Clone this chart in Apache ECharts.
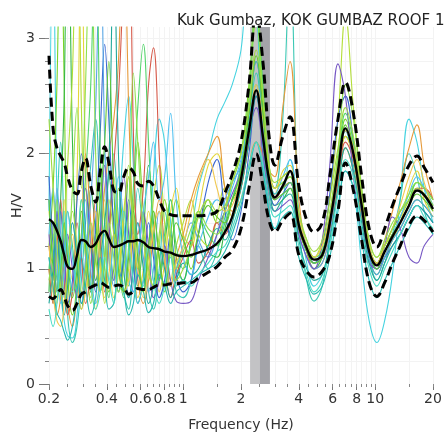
<!DOCTYPE html>
<html>
<head>
<meta charset="utf-8">
<script src="https://cdn.jsdelivr.net/npm/echarts@6/dist/echarts.min.js"></script>
<style>
  html, body { margin: 0; padding: 0; background: #ffffff; }
  #chart { width: 445px; height: 438px; }
</style>
</head>
<body>
<div id="chart"></div>
<script>
// Frequency samples (Hz) shared by every H/V curve
const freqHz = [
  0.2, 0.21, 0.22, 0.23, 0.24, 0.25, 0.265, 0.28, 0.295, 0.31,
  0.33, 0.35, 0.37, 0.39, 0.41, 0.435, 0.46, 0.49, 0.52, 0.55,
  0.58, 0.62, 0.66, 0.7, 0.75, 0.8, 0.86, 0.92,
  1.0, 1.1, 1.2, 1.35, 1.5, 1.65, 1.8, 2.0, 2.2, 2.4, 2.6, 2.8,
  3.0, 3.3, 3.6, 4.0, 4.4, 4.8, 5.3, 5.8, 6.4, 7.0,
  7.7, 8.5, 9.3, 10.2, 11.2, 12.3, 13.5, 15, 16.5, 18, 20
];

// Average H/V and its standard-deviation bounds
const meanHV = [
  1.43, 1.40, 1.33, 1.24, 1.12, 1.02, 1.00, 1.12, 1.25, 1.24,
  1.19, 1.22, 1.30, 1.33, 1.26, 1.19, 1.20, 1.22, 1.24, 1.24,
  1.25, 1.23, 1.19, 1.18, 1.17, 1.15, 1.14, 1.12,
  1.11, 1.12, 1.14, 1.17, 1.22, 1.32, 1.45, 1.78, 2.20, 2.55, 2.15, 1.78,
  1.62, 1.72, 1.85, 1.38, 1.18, 1.08, 1.12, 1.40, 1.85, 2.22,
  2.00, 1.55, 1.15, 1.03, 1.15, 1.28, 1.40, 1.55, 1.68, 1.64, 1.52
];
const upperHV = [
  2.85, 2.22, 2.05, 1.98, 1.92, 1.80, 1.68, 1.65, 1.85, 1.96,
  1.72, 1.58, 1.85, 2.06, 1.92, 1.68, 1.66, 1.80, 1.88, 1.84,
  1.74, 1.72, 1.76, 1.72, 1.60, 1.50, 1.47, 1.46,
  1.46, 1.46, 1.46, 1.47, 1.50, 1.66, 1.82, 2.10, 2.60, 3.25, 2.80, 2.15,
  1.90, 2.15, 2.32, 1.72, 1.42, 1.32, 1.40, 1.80, 2.30, 2.62,
  2.35, 1.80, 1.35, 1.19, 1.35, 1.55, 1.72, 1.90, 1.98, 1.88, 1.75
];
const lowerHV = [
  0.76, 0.74, 0.78, 0.82, 0.76, 0.68, 0.64, 0.70, 0.78, 0.80,
  0.84, 0.86, 0.88, 0.86, 0.84, 0.85, 0.86, 0.84, 0.78, 0.80,
  0.83, 0.82, 0.82, 0.84, 0.86, 0.86, 0.87, 0.87,
  0.88, 0.88, 0.92, 0.97, 1.02, 1.10, 1.16, 1.35, 1.70, 2.00, 1.72, 1.42,
  1.32, 1.42, 1.48, 1.12, 0.98, 0.93, 0.98, 1.12, 1.50, 1.92,
  1.68, 1.25, 0.88, 0.76, 0.88, 1.05, 1.20, 1.38, 1.46, 1.42, 1.32
];

// H/V of the individual time windows
const win01 = [1.5, 3.9, 1.6, 0.8, 0.55, 0.42, 0.4, 0.6, 1.1, 1.7, 1.3, 0.8, 1.3, 2.0, 1.5, 0.9, 1.4, 2.1, 2.5, 1.9, 1.2, 0.85, 1.2, 1.8, 2.3, 2.1, 1.4, 1.0,
               0.9, 1.3, 1.7, 2.0, 2.3, 2.45, 2.6, 2.9, 3.6, 3.3, 2.0, 1.5, 1.35, 1.6, 1.95, 1.5, 1.05, 0.85, 0.95, 1.2, 1.55, 1.85, 1.7, 1.05, 0.55, 0.36, 0.55, 0.95, 1.6, 2.3, 2.1, 1.7, 1.4];
const win02 = [1.1, 0.8, 1.5, 2.1, 1.3, 0.6, 0.36, 0.5, 0.9, 1.4, 1.9, 2.3, 1.5, 0.9, 1.3, 2.0, 1.4, 0.8, 0.65, 1.1, 1.7, 1.3, 0.8, 0.65, 1.0, 1.5, 1.2, 0.8,
               0.75, 0.9, 1.2, 1.0, 1.15, 1.45, 1.6, 1.9, 2.3, 2.7, 2.2, 1.8, 1.7, 2.3, 3.6, 1.4, 0.9, 0.72, 0.85, 1.3, 1.9, 2.2, 1.9, 1.45, 1.1, 0.9, 1.05, 1.3, 1.6, 2.0, 1.8, 1.5, 1.3];
const win03 = [1.2, 1.7, 2.6, 4.2, 2.6, 1.0, 0.6, 0.9, 1.6, 1.1, 0.7, 1.2, 1.9, 1.4, 0.8, 1.0, 1.7, 1.3, 0.85, 1.5, 2.1, 1.5, 1.0, 1.5, 1.1, 0.8, 1.3, 1.6,
               1.3, 1.0, 1.3, 1.6, 1.4, 1.5, 1.8, 2.0, 2.6, 3.2, 2.4, 1.9, 1.7, 1.75, 1.8, 1.45, 1.2, 1.05, 1.15, 1.45, 1.9, 2.3, 2.05, 1.6, 1.2, 1.05, 1.2, 1.35, 1.45, 1.6, 1.75, 1.7, 1.55];
const win04 = [0.8, 1.4, 0.9, 1.6, 2.5, 4.5, 2.1, 1.0, 0.65, 1.0, 1.7, 1.3, 0.8, 1.1, 1.8, 1.4, 0.8, 1.1, 1.8, 1.3, 0.85, 1.3, 1.9, 1.4, 0.9, 1.2, 1.6, 1.1,
               0.9, 1.25, 1.5, 1.15, 1.1, 1.35, 1.6, 1.75, 2.3, 2.8, 2.4, 1.75, 1.55, 1.6, 1.7, 1.35, 1.15, 1.0, 1.1, 1.35, 1.8, 2.15, 2.0, 1.5, 1.1, 0.95, 1.1, 1.25, 1.35, 1.5, 1.6, 1.55, 1.45];
const win05 = [1.0, 0.7, 1.2, 0.8, 1.3, 1.9, 2.7, 4.3, 2.4, 1.1, 0.75, 1.3, 1.0, 0.7, 1.2, 1.8, 1.3, 0.8, 1.0, 1.6, 1.2, 0.8, 1.1, 1.6, 1.9, 1.4, 0.9, 1.2,
               1.4, 1.6, 1.3, 1.2, 1.45, 1.7, 1.6, 1.85, 2.5, 3.4, 2.5, 1.85, 1.6, 1.7, 1.75, 1.4, 1.2, 1.1, 1.25, 1.6, 2.3, 3.2, 2.4, 1.7, 1.2, 1.05, 1.2, 1.3, 1.45, 1.6, 1.7, 1.65, 1.55];
const win06 = [1.5, 1.1, 0.7, 1.0, 1.6, 1.2, 0.9, 1.8, 4.0, 1.9, 0.9, 0.65, 1.0, 1.6, 1.2, 0.75, 0.95, 1.5, 1.8, 1.2, 0.75, 1.0, 1.5, 1.2, 0.8, 1.05, 1.5, 1.7,
               1.3, 1.2, 1.5, 1.9, 2.0, 1.7, 1.45, 1.7, 2.1, 2.6, 2.2, 1.8, 1.65, 1.85, 1.9, 1.4, 1.15, 1.05, 1.1, 1.35, 1.8, 2.15, 1.95, 1.5, 1.1, 1.0, 1.1, 1.25, 1.4, 1.7, 1.85, 1.6, 1.45];
const win07 = [1.2, 0.85, 0.6, 0.75, 1.1, 0.7, 0.5, 0.8, 1.3, 2.0, 1.4, 0.9, 1.2, 1.7, 2.0, 2.3, 2.8, 4.0, 2.4, 1.3, 0.9, 0.7, 0.9, 1.3, 1.6, 1.2, 0.85, 1.1,
               1.3, 1.6, 1.8, 2.0, 2.15, 1.7, 1.5, 1.6, 1.9, 2.1, 2.0, 1.85, 1.8, 2.4, 2.8, 1.6, 1.15, 1.0, 1.05, 1.3, 1.7, 2.05, 1.85, 1.45, 1.15, 1.05, 1.25, 1.5, 1.75, 2.05, 2.25, 1.9, 1.6];
const win08 = [1.0, 0.7, 1.2, 1.6, 0.9, 0.6, 0.8, 1.4, 1.1, 0.7, 1.0, 1.6, 1.2, 0.8, 1.3, 1.9, 2.5, 3.5, 4.2, 2.2, 1.3, 1.7, 2.6, 2.92, 2.0, 1.1, 0.75, 0.95,
               1.1, 1.25, 1.05, 1.15, 1.4, 1.3, 1.45, 1.7, 2.1, 2.5, 2.2, 1.75, 1.6, 1.7, 1.75, 1.35, 1.15, 1.05, 1.1, 1.35, 1.75, 2.1, 1.95, 1.5, 1.15, 1.05, 1.15, 1.3, 1.4, 1.55, 1.7, 1.7, 1.6];
const win09 = [1.8, 1.2, 0.8, 1.5, 1.1, 0.7, 0.9, 1.6, 2.0, 1.3, 0.8, 1.4, 2.2, 2.95, 2.3, 1.3, 0.8, 1.1, 1.6, 1.1, 0.7, 0.9, 1.4, 1.1, 0.75, 0.9, 1.3, 0.95,
               0.8, 0.9, 1.3, 1.75, 1.95, 1.5, 1.25, 1.5, 2.0, 2.5, 2.1, 1.7, 1.55, 1.65, 1.75, 1.4, 1.15, 1.05, 1.2, 1.65, 2.3, 2.5, 2.1, 1.5, 1.1, 1.0, 1.1, 1.2, 1.3, 1.45, 1.55, 1.5, 1.4];
const win10 = [1.6, 1.1, 1.7, 1.3, 0.75, 0.9, 1.4, 1.1, 0.7, 1.1, 1.6, 2.4, 4.0, 2.1, 1.1, 0.85, 1.4, 1.2, 0.75, 1.0, 1.4, 1.1, 0.8, 1.0, 1.5, 1.2, 0.85, 1.0,
               1.2, 1.4, 1.25, 1.1, 1.3, 1.6, 1.75, 1.9, 2.4, 2.8, 2.3, 1.8, 1.6, 1.65, 1.7, 1.3, 1.1, 1.0, 1.05, 1.3, 1.85, 2.2, 2.0, 1.5, 1.1, 0.95, 1.1, 1.25, 1.35, 1.5, 1.6, 1.55, 1.45];
const win11 = [1.3, 0.9, 1.5, 1.0, 0.8, 1.3, 1.0, 0.75, 1.2, 1.7, 1.2, 0.8, 1.3, 1.9, 1.4, 0.9, 1.3, 1.8, 1.3, 0.8, 0.95, 1.5, 1.2, 0.75, 0.9, 1.2, 0.9, 0.72,
               0.7, 0.72, 0.9, 1.1, 1.3, 1.5, 1.65, 1.85, 2.2, 2.4, 2.0, 1.6, 1.5, 1.55, 1.6, 1.3, 1.1, 1.0, 1.25, 1.9, 2.78, 2.5, 1.8, 1.3, 1.05, 1.0, 1.2, 1.45, 1.35, 1.1, 1.05, 1.2, 1.3];
const win12 = [1.0, 1.3, 0.8, 1.2, 1.0, 1.5, 1.2, 0.8, 1.3, 1.8, 2.6, 4.1, 2.0, 1.0, 0.75, 1.3, 1.0, 0.75, 1.2, 1.7, 2.4, 2.95, 2.1, 1.3, 0.9, 1.3, 1.6, 1.2,
               1.0, 1.2, 1.45, 1.3, 1.2, 1.4, 1.6, 1.85, 2.5, 3.3, 2.6, 1.85, 1.65, 1.7, 1.75, 1.4, 1.2, 1.1, 1.15, 1.45, 1.95, 2.35, 2.1, 1.6, 1.2, 1.05, 1.2, 1.35, 1.5, 1.6, 1.75, 1.7, 1.6];
const win13 = [0.7, 1.0, 1.4, 0.9, 0.6, 0.85, 1.4, 1.1, 0.7, 0.85, 1.2, 0.9, 1.1, 1.4, 1.9, 3.8, 2.0, 1.0, 0.75, 1.0, 1.4, 1.0, 0.7, 0.85, 1.2, 1.0, 0.75, 0.9,
               1.05, 0.95, 1.0, 1.2, 1.35, 1.25, 1.4, 1.7, 2.1, 2.5, 2.1, 1.7, 1.5, 1.6, 1.65, 1.25, 1.0, 0.9, 0.95, 1.25, 1.7, 2.05, 1.85, 1.4, 1.05, 0.9, 1.05, 1.2, 1.3, 1.45, 1.55, 1.5, 1.4];
const win14 = [1.3, 1.7, 1.1, 0.7, 1.0, 1.5, 1.1, 0.8, 1.2, 1.6, 1.0, 0.7, 0.9, 1.3, 0.9, 1.3, 1.8, 1.4, 0.9, 0.8, 1.1, 1.5, 1.8, 2.1, 1.6, 1.8, 2.35, 1.6,
               1.1, 0.95, 1.2, 1.45, 1.6, 1.55, 1.7, 1.95, 2.3, 2.6, 2.25, 1.8, 1.65, 1.8, 1.95, 1.45, 1.2, 1.05, 1.1, 1.4, 1.85, 2.2, 2.0, 1.55, 1.15, 1.0, 1.15, 1.3, 1.45, 1.65, 1.8, 1.7, 1.55];
const win15 = [0.9, 1.2, 1.6, 1.1, 0.8, 1.0, 1.7, 2.4, 1.7, 2.6, 4.2, 2.0, 1.1, 0.85, 1.4, 1.1, 0.8, 1.0, 1.5, 2.7, 2.1, 1.3, 0.95, 0.85, 1.2, 1.6, 1.3, 1.0,
               1.15, 1.35, 1.5, 1.35, 1.3, 1.5, 1.75, 2.0, 2.5, 3.2, 2.5, 1.9, 1.7, 1.75, 1.8, 1.45, 1.25, 1.1, 1.2, 1.5, 2.0, 2.6, 2.3, 1.7, 1.25, 1.1, 1.25, 1.4, 1.5, 1.65, 1.75, 1.7, 1.6];
const win16 = [1.2, 0.8, 0.55, 0.5, 0.7, 1.0, 1.3, 0.9, 0.65, 0.8, 1.2, 1.5, 1.0, 0.75, 0.95, 1.3, 1.1, 0.8, 0.9, 1.3, 1.0, 0.75, 1.0, 1.35, 1.5, 1.1, 0.85, 1.05,
               1.2, 1.5, 1.75, 1.95, 1.7, 1.5, 1.55, 1.8, 2.2, 2.6, 2.3, 1.85, 1.7, 1.8, 1.85, 1.45, 1.2, 1.1, 1.2, 1.45, 1.9, 2.2, 2.05, 1.6, 1.2, 1.05, 1.2, 1.35, 1.55, 1.8, 1.95, 1.75, 1.5];
const win17 = [1.1, 0.85, 0.62, 0.55, 0.45, 0.38, 0.5, 0.8, 1.1, 0.85, 0.6, 0.75, 1.1, 0.9, 0.65, 0.7, 1.0, 0.8, 0.6, 0.7, 0.95, 0.8, 0.62, 0.7, 0.95, 0.85, 0.7, 0.8,
               0.85, 0.9, 0.95, 1.0, 1.05, 1.15, 1.3, 1.55, 1.85, 2.1, 1.85, 1.5, 1.35, 1.45, 1.5, 1.1, 0.9, 0.78, 0.85, 1.1, 1.5, 1.85, 1.7, 1.25, 0.9, 0.75, 0.9, 1.05, 1.2, 1.35, 1.45, 1.4, 1.3];
const win18 = [1.6, 1.0, 0.75, 1.0, 1.4, 1.1, 0.75, 1.0, 1.5, 1.2, 0.8, 1.1, 1.6, 2.1, 2.8, 1.7, 1.0, 0.8, 1.1, 1.5, 1.1, 0.8, 1.2, 1.5, 1.1, 0.85, 1.15, 1.4,
               1.25, 1.1, 1.3, 1.55, 1.45, 1.4, 1.6, 1.85, 2.35, 2.85, 2.35, 1.8, 1.6, 1.65, 1.7, 1.35, 1.15, 1.05, 1.1, 1.4, 1.85, 2.25, 2.0, 1.55, 1.15, 1.0, 1.15, 1.3, 1.4, 1.55, 1.65, 1.6, 1.5];
const win19 = [2.3, 1.7, 1.2, 0.85, 0.7, 1.0, 1.5, 1.2, 0.8, 1.0, 1.4, 1.1, 0.8, 1.1, 1.6, 1.3, 0.95, 1.4, 1.9, 1.4, 1.0, 1.3, 1.0, 0.85, 1.3, 1.6, 1.2, 0.9,
               1.0, 1.2, 1.45, 1.6, 1.5, 1.55, 1.75, 2.0, 2.4, 2.9, 2.5, 1.9, 1.75, 1.8, 1.85, 1.5, 1.25, 1.15, 1.25, 1.6, 2.05, 2.4, 2.15, 1.65, 1.25, 1.1, 1.2, 1.35, 1.5, 1.6, 1.7, 1.65, 1.55];
const win20 = [0.65, 0.5, 0.7, 1.1, 1.5, 1.2, 0.8, 1.1, 1.6, 1.3, 0.85, 0.65, 0.8, 1.1, 0.9, 0.7, 1.1, 1.5, 1.2, 0.9, 0.7, 0.9, 1.2, 0.9, 0.7, 0.85, 1.1, 0.85,
               0.9, 0.85, 0.95, 1.05, 1.15, 1.2, 1.35, 1.6, 1.9, 2.1, 1.9, 1.6, 1.45, 1.5, 1.55, 1.2, 0.95, 0.8, 0.9, 1.2, 1.65, 1.95, 1.8, 1.35, 1.0, 0.85, 1.0, 1.15, 1.3, 1.45, 1.55, 1.45, 1.35];

const windowCurves = [win01, win02, win03, win04, win05, win06, win07, win08, win09, win10,
                      win11, win12, win13, win14, win15, win16, win17, win18, win19, win20];
const windowColors = ['#46d3e0', '#3cc8b4', '#78d428', '#36b846', '#b4de3a', '#e4d63c', '#e69a3a', '#d65a4a', '#3a66d0', '#58a6e4',
                      '#7657c4', '#52d46a', '#22a89a', '#4ec0f0', '#8ee04c', '#f0c850', '#28b8b0', '#62c832', '#a2d842', '#48dcc4'];

// Peak frequency and its standard-deviation band (Hz)
const peakFreq = 2.5;
const peakLow = 2.23;
const peakHigh = 2.83;

// Axis ticks
const xLabelFreqs = [0.2, 0.4, 0.6, 0.8, 1, 2, 4, 6, 8, 10, 20];
const xMinorFreqs = [0.2, 0.25, 0.3, 0.35, 0.4, 0.45, 0.5, 0.55, 0.6, 0.65, 0.7, 0.75, 0.8, 0.85, 0.9, 0.95,
                     1, 1.5, 2, 2.5, 3, 3.5, 4, 4.5, 5, 5.5, 6, 6.5, 7, 7.5, 8, 8.5, 9, 9.5, 10, 15, 20];
const yLabelValues = [0, 1, 2, 3];
const yMinorValues = [0.2, 0.4, 0.6, 0.8, 1, 1.2, 1.4, 1.6, 1.8, 2, 2.2, 2.4, 2.6, 2.8, 3];
const xRange = [0.2, 20];
const yRange = [0, 3.1];

const log10 = Math.log10;
const toPoints = vals => freqHz.map((f, i) => [log10(f), vals[i]]);
const FONT = 'DejaVu Sans';

const chart = echarts.init(document.getElementById('chart'), null, { renderer: 'canvas' });

const series = [];
// grey band marking the peak frequency
series.push({
  type: 'line', data: [], z: 1, silent: true,
  markArea: {
    silent: true,
    data: [
      [{ xAxis: log10(peakLow), itemStyle: { color: '#c3c3c5' } }, { xAxis: log10(peakFreq) }],
      [{ xAxis: log10(peakFreq), itemStyle: { color: '#a4a4a9' } }, { xAxis: log10(peakHigh) }]
    ]
  }
});
windowCurves.forEach((vals, k) => {
  series.push({
    type: 'line', data: toPoints(vals), z: 2, symbol: 'none', smooth: 0.4,
    lineStyle: { color: windowColors[k], width: 1.1 }, silent: true
  });
});
series.push({
  type: 'line', data: toPoints(meanHV), z: 3, symbol: 'none', smooth: 0.4,
  lineStyle: { color: '#000', width: 2.4 }
});
[upperHV, lowerHV].forEach(vals => {
  series.push({
    type: 'line', data: toPoints(vals), z: 3, symbol: 'none', smooth: 0.4,
    lineStyle: { color: '#000', width: 3, type: [9, 5] }
  });
});

const xMin = log10(xRange[0]), xMax = log10(xRange[1]);
const freqLabel = v => String(Number(Math.pow(10, v).toPrecision(2)));

chart.setOption({
  animation: false,
  backgroundColor: '#ffffff',
  title: {
    text: 'Kuk Gumbaz, KOK GUMBAZ ROOF 1',
    left: 172, top: 9,
    textStyle: { fontFamily: FONT, fontSize: 15, fontWeight: 'normal', color: '#222' }
  },
  grid: { left: 49, right: 12, top: 27, bottom: 54, outerBoundsMode: 'none', containLabel: false },
  xAxis: [
    {
      type: 'value', min: xMin, max: xMax, position: 'bottom',
      name: 'Frequency (Hz)', nameLocation: 'middle', nameGap: 34, nameMoveOverlap: false,
      nameTextStyle: { fontFamily: FONT, fontSize: 14, color: '#333' },
      axisLine: { show: false, onZero: false },
      axisTick: { show: true, length: 6, customValues: xLabelFreqs.map(log10), lineStyle: { color: '#777' } },
      axisLabel: { customValues: xLabelFreqs.map(log10), formatter: freqLabel, margin: 8,
                   fontFamily: FONT, fontSize: 14, color: '#333' },
      splitLine: { show: false }
    },
    {
      type: 'value', min: xMin, max: xMax, position: 'bottom',
      axisLine: { show: false, onZero: false },
      axisTick: { show: true, length: 3, customValues: xMinorFreqs.map(log10), lineStyle: { color: '#888' } },
      axisLabel: { show: false },
      splitLine: { show: true, lineStyle: { color: '#f3f3f3', width: 1 } }
    }
  ],
  yAxis: [
    {
      type: 'value', min: yRange[0], max: yRange[1], position: 'left',
      name: 'H/V', nameLocation: 'middle', nameGap: 25, nameRotate: 90, nameMoveOverlap: false,
      nameTextStyle: { fontFamily: FONT, fontSize: 14, color: '#333' },
      axisLine: { show: false, onZero: false },
      axisTick: { show: true, length: 10, customValues: yLabelValues, lineStyle: { color: '#777' } },
      axisLabel: { customValues: yLabelValues, margin: 14, fontFamily: FONT, fontSize: 14, color: '#333' },
      splitLine: { show: false }
    },
    {
      type: 'value', min: yRange[0], max: yRange[1], position: 'left',
      axisLine: { show: false, onZero: false },
      axisTick: { show: true, length: 4, customValues: yMinorValues, lineStyle: { color: '#888' } },
      axisLabel: { show: false },
      splitLine: { show: true, lineStyle: { color: '#f3f3f3', width: 1 } }
    }
  ],
  series: series
});
</script>
</body>
</html>
